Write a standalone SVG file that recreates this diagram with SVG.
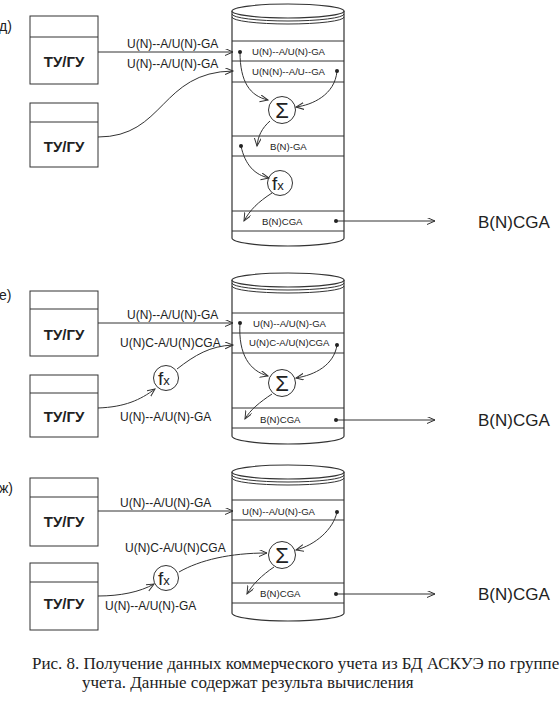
<svg xmlns="http://www.w3.org/2000/svg" width="560" height="705" viewBox="0 0 560 705">
<style>
.ln{fill:none;stroke:#333;stroke-width:1}
.cy{fill:#fff;stroke:#333;stroke-width:1.2}
.bx{fill:#fff;stroke:#333;stroke-width:1}
.ar{fill:none;stroke:#333;stroke-width:1;marker-end:url(#ah)}
.t{font-family:"Liberation Sans",Arial,sans-serif;fill:#222}
.lab{font-size:12px}
.in{font-size:9.6px}
.big{font-size:17px}
.tu{font-size:15px;font-weight:bold;text-anchor:middle}
.sec{font-size:14px}
.sig{font-size:22px;text-anchor:middle}
.cap{font-family:"Liberation Serif","Times New Roman",serif;font-size:17px;fill:#222}
.dot{fill:#222}
</style>
<defs>
<marker id="ah" markerUnits="userSpaceOnUse" markerWidth="10" markerHeight="10" refX="8" refY="3.5" orient="auto">
<path d="M0,0 L8,3.5 L0,7" fill="none" stroke="#333" stroke-width="1"/>
</marker>
</defs>
<rect width="560" height="705" fill="#fff"/>

<!-- Section д -->
<text class="t sec" x="-1" y="31">д)</text>
<g id="d_box1"><rect class="bx" x="30" y="16" width="68" height="68"/><line class="ln" x1="30" y1="37" x2="98" y2="37"/><text class="t tu" x="64" y="67">ТУ/ГУ</text></g>
<g id="d_box2"><rect class="bx" x="30" y="103" width="68" height="64"/><line class="ln" x1="30" y1="122" x2="98" y2="122"/><text class="t tu" x="64" y="152">ТУ/ГУ</text></g>
<g id="d_db">
<path class="cy" d="M232,11 L232,238 A56,8 0 0 0 344,238 L344,11"/>
<ellipse class="cy" cx="288" cy="11" rx="56" ry="7"/>
<path class="ln" d="M232,14 A56,7 0 0 0 344,14 M232,17 A56,7 0 0 0 344,17"/>
<path class="ln" d="M232,41H344M232,61H344M232,82H344M232,136H344M232,156H344M232,211H344M232,231H344"/>
<text class="t in" x="252" y="55">U(N)--A/U(N)-GA</text>
<text class="t in" x="252" y="75">U(N(N)--A/U--GA</text>
<text class="t in" x="270" y="150">B(N)-GA</text>
<text class="t in" x="262" y="225">B(N)CGA</text>
</g>
<g id="d_sum"><circle class="bx" cx="282" cy="110" r="13.5"/><text class="t sig" x="282" y="118">Σ</text></g>
<g id="d_fx"><circle class="bx" cx="280" cy="183" r="12.5"/><text class="t" x="272" y="190" font-size="19">f<tspan font-size="13">x</tspan></text></g>
<text class="t lab" x="127" y="48">U(N)--A/U(N)-GA</text>
<text class="t lab" x="127" y="68">U(N)--A/U(N)-GA</text>
<text class="t big" x="478" y="228">B(N)CGA</text>
<g id="d_conn">
<path class="ar" d="M98,52 H233"/>
<path class="ar" d="M98,137 C165,137 160,72 233,71"/>
<path class="ar" d="M240,52 C240,82 250,96 268,100"/>
<path class="ar" d="M337,71 C335,95 312,105 296,107"/>
<path class="ar" d="M270,121 C262,128 258,136 257,146"/>
<path class="ar" d="M241,146 C245,165 255,175 269,178"/>
<path class="ar" d="M272,193 C258,202 250,210 244,221"/>
<path class="ar" d="M336,221 H435"/>
<circle class="dot" cx="240" cy="52" r="2"/><circle class="dot" cx="337" cy="71" r="2"/><circle class="dot" cx="241" cy="146" r="2"/><circle class="dot" cx="336" cy="221" r="2"/>
</g>

<!-- Section е -->
<text class="t sec" x="-1" y="300">е)</text>
<g id="e_box1"><rect class="bx" x="30" y="291" width="68" height="65"/><line class="ln" x1="30" y1="309" x2="98" y2="309"/><text class="t tu" x="64" y="340">ТУ/ГУ</text></g>
<g id="e_box2"><rect class="bx" x="30" y="375" width="68" height="62"/><line class="ln" x1="30" y1="393" x2="98" y2="393"/><text class="t tu" x="64" y="422">ТУ/ГУ</text></g>
<g id="e_db">
<path class="cy" d="M232,280 L232,436 A56,8 0 0 0 344,436 L344,280"/>
<ellipse class="cy" cx="288" cy="280" rx="56" ry="7"/>
<path class="ln" d="M232,283 A56,7 0 0 0 344,283 M232,286 A56,7 0 0 0 344,286"/>
<path class="ln" d="M232,313H344M232,333H344M232,353H344M232,408H344M232,428H344"/>
<text class="t in" x="253" y="327">U(N)--A/U(N)-GA</text>
<text class="t in" x="249" y="346">U(N)C-A/U(N)CGA</text>
<text class="t in" x="260" y="423">B(N)CGA</text>
</g>
<g id="e_sum"><circle class="bx" cx="282" cy="383" r="13.5"/><text class="t sig" x="282" y="391">Σ</text></g>
<g id="e_fx"><circle class="bx" cx="166" cy="378" r="12.5"/><text class="t" x="158" y="385" font-size="19">f<tspan font-size="13">x</tspan></text></g>
<text class="t lab" x="127" y="319">U(N)--A/U(N)-GA</text>
<text class="t lab" x="120" y="347">U(N)C-A/U(N)CGA</text>
<text class="t lab" x="120" y="421">U(N)--A/U(N)-GA</text>
<text class="t big" x="478" y="426">B(N)CGA</text>
<g id="e_conn">
<path class="ar" d="M98,323 H233"/>
<path class="ar" d="M177,369 C195,355 210,346 233,345"/>
<path class="ar" d="M98,408 C125,407 140,400 155,389"/>
<path class="ar" d="M240,323 C238,355 250,371 268,376"/>
<path class="ar" d="M337,345 C334,365 315,375 296,378"/>
<path class="ar" d="M272,394 C260,402 250,410 245,419"/>
<path class="ar" d="M336,420 H435"/>
<circle class="dot" cx="240" cy="323" r="2"/><circle class="dot" cx="337" cy="345" r="2"/><circle class="dot" cx="336" cy="420" r="2"/>
</g>

<!-- Section ж -->
<text class="t sec" x="-1" y="493">ж)</text>
<g id="zh_box1"><rect class="bx" x="30" y="478" width="68" height="68"/><line class="ln" x1="30" y1="497" x2="98" y2="497"/><text class="t tu" x="64" y="527">ТУ/ГУ</text></g>
<g id="zh_box2"><rect class="bx" x="30" y="563" width="68" height="67"/><line class="ln" x1="30" y1="582" x2="98" y2="582"/><text class="t tu" x="64" y="609">ТУ/ГУ</text></g>
<g id="zh_db">
<path class="cy" d="M232,472 L232,613 A56,8 0 0 0 344,613 L344,472"/>
<ellipse class="cy" cx="288" cy="472" rx="56" ry="7"/>
<path class="ln" d="M232,475 A56,7 0 0 0 344,475 M232,478 A56,7 0 0 0 344,478"/>
<path class="ln" d="M232,500H344M232,520H344M232,583H344M232,603H344"/>
<text class="t in" x="242" y="515">U(N)--A/U(N)-GA</text>
<text class="t in" x="260" y="597">B(N)CGA</text>
</g>
<g id="zh_sum"><circle class="bx" cx="282" cy="555" r="13.5"/><text class="t sig" x="282" y="563">Σ</text></g>
<g id="zh_fx"><circle class="bx" cx="166" cy="578" r="12.5"/><text class="t" x="158" y="585" font-size="19">f<tspan font-size="13">x</tspan></text></g>
<text class="t lab" x="120" y="507">U(N)--A/U(N)-GA</text>
<text class="t lab" x="125" y="552">U(N)C-A/U(N)CGA</text>
<text class="t lab" x="105" y="610">U(N)--A/U(N)-GA</text>
<text class="t big" x="478" y="600">B(N)CGA</text>
<g id="zh_conn">
<path class="ar" d="M98,511 H233"/>
<path class="ar" d="M179,572 C200,560 230,553 267,553"/>
<path class="ar" d="M98,596 C120,596 140,592 154,584"/>
<path class="ar" d="M337,512 C333,530 315,545 296,550"/>
<path class="ar" d="M274,567 C262,575 252,585 247,594"/>
<path class="ar" d="M336,594 H435"/>
<circle class="dot" cx="337" cy="512" r="2"/><circle class="dot" cx="336" cy="594" r="2"/>
</g>

<text class="cap" x="32" y="669">Рис. 8. Получение данных коммерческого учета из БД АСКУЭ по группе</text>
<text class="cap" x="82" y="688">учета. Данные содержат результа вычисления</text>
</svg>
